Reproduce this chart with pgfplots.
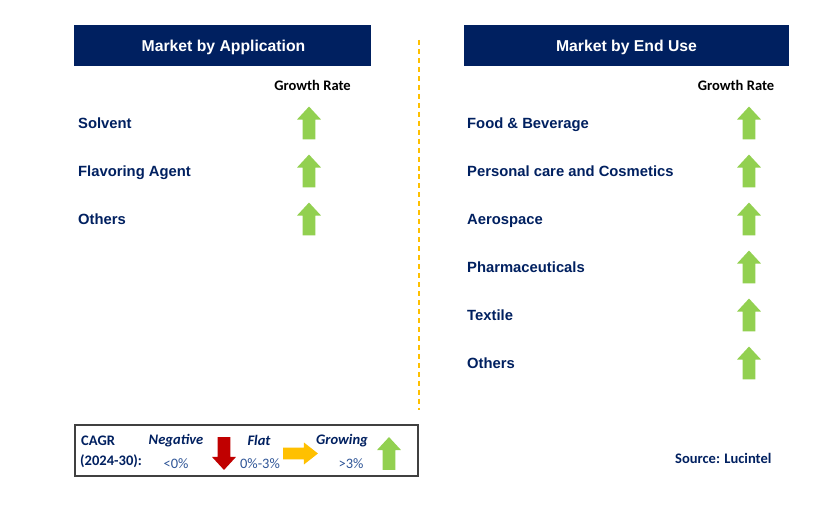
\documentclass[border=0pt]{standalone}
\usepackage{pgfplots}
\pgfplotsset{compat=1.18}
\usepackage{fontspec}
\setmainfont{Liberation Sans}
\newfontfamily\carlito{Carlito}
\definecolor{navy}{HTML}{002060}
\definecolor{lblue}{HTML}{2F5597}
\definecolor{grow}{HTML}{92D050}
\definecolor{neg}{HTML}{C00000}
\definecolor{flat}{HTML}{FFC000}
\pgfdeclareplotmark{uparrow}{%
  \pgfpathmoveto{\pgfpoint{-6.5pt}{-16.5pt}}%
  \pgfpathlineto{\pgfpoint{6.5pt}{-16.5pt}}%
  \pgfpathlineto{\pgfpoint{6.5pt}{3.5pt}}%
  \pgfpathlineto{\pgfpoint{12pt}{3.5pt}}%
  \pgfpathlineto{\pgfpoint{0pt}{16.5pt}}%
  \pgfpathlineto{\pgfpoint{-12pt}{3.5pt}}%
  \pgfpathlineto{\pgfpoint{-6.5pt}{3.5pt}}%
  \pgfpathclose\pgfusepathqfill}
\pgfdeclareplotmark{downarrow}{%
  \pgfpathmoveto{\pgfpoint{-6.5pt}{16.5pt}}%
  \pgfpathlineto{\pgfpoint{6.5pt}{16.5pt}}%
  \pgfpathlineto{\pgfpoint{6.5pt}{-3.5pt}}%
  \pgfpathlineto{\pgfpoint{12pt}{-3.5pt}}%
  \pgfpathlineto{\pgfpoint{0pt}{-16.5pt}}%
  \pgfpathlineto{\pgfpoint{-12pt}{-3.5pt}}%
  \pgfpathlineto{\pgfpoint{-6.5pt}{-3.5pt}}%
  \pgfpathclose\pgfusepathqfill}
\pgfdeclareplotmark{rightarrow}{%
  \pgfpathmoveto{\pgfpoint{-17.5pt}{-6pt}}%
  \pgfpathlineto{\pgfpoint{-17.5pt}{6pt}}%
  \pgfpathlineto{\pgfpoint{3.5pt}{6pt}}%
  \pgfpathlineto{\pgfpoint{3.5pt}{11pt}}%
  \pgfpathlineto{\pgfpoint{17.5pt}{0pt}}%
  \pgfpathlineto{\pgfpoint{3.5pt}{-11pt}}%
  \pgfpathlineto{\pgfpoint{3.5pt}{-6pt}}%
  \pgfpathclose\pgfusepathqfill}
\begin{document}
\begin{tikzpicture}
\begin{axis}[scale only axis, width=831bp, height=518bp,
  xmin=0, xmax=831, ymin=0, ymax=518, y dir=reverse,
  axis lines=none, ticks=none, clip=false]
\fill[white] (axis cs:0,0) rectangle (axis cs:831,518);
% header boxes
\fill[navy] (axis cs:74,25) rectangle (axis cs:371,66);
\fill[navy] (axis cs:464,25) rectangle (axis cs:789,66);
\node[text=white, font=\fontsize{15.8}{18}\selectfont\bfseries] at (axis cs:223.5,47) {Market by Application};
\node[text=white, font=\fontsize{15.8}{18}\selectfont\bfseries] at (axis cs:626.5,47) {Market by End Use};
\node[font=\carlito\fontsize{14.6}{17}\selectfont\bfseries] at (axis cs:312.5,85.5) {Growth Rate};
\node[font=\carlito\fontsize{14.6}{17}\selectfont\bfseries] at (axis cs:736,85.5) {Growth Rate};
% divider
\draw[flat, line width=1.5pt, dash pattern=on 5pt off 4pt] (axis cs:419,40) -- (axis cs:419,410);
% category labels
\addplot[draw=none, mark=none, point meta=explicit symbolic, nodes near coords,
  every node near coord/.append style={anchor=mid west, inner sep=0pt, text=navy,
    font=\fontsize{14.85}{17}\selectfont\bfseries}]
  coordinates {(78,126)[Solvent] (78,174)[Flavoring Agent] (78,222)[Others]};
\addplot[draw=none, mark=none, point meta=explicit symbolic, nodes near coords,
  every node near coord/.append style={anchor=mid west, inner sep=0pt, text=navy,
    font=\fontsize{14.85}{17}\selectfont\bfseries}]
  coordinates {(467,126)[Food \& Beverage] (467,174)[Personal care and Cosmetics]
    (467,222)[Aerospace] (467,270)[Pharmaceuticals] (467,318)[Textile] (467,366)[Others]};
% growth arrows
\addplot[only marks, mark=uparrow, mark options={fill=grow, draw=none}]
  coordinates {(309,123) (309,171) (309,219)};
\addplot[only marks, mark=uparrow, mark options={fill=grow, draw=none}]
  coordinates {(749,123) (749,171) (749,219) (749,267) (749,315) (749,363)};
% legend box
\draw[black!75, line width=1.2pt] (axis cs:75,425) rectangle (axis cs:418,476);
\node[anchor=west, text=navy, font=\carlito\fontsize{14.6}{17}\selectfont\bfseries, inner sep=0pt] at (axis cs:81,441) {CAGR};
\node[anchor=west, text=navy, font=\carlito\fontsize{14.6}{17}\selectfont\bfseries, inner sep=0pt] at (axis cs:80,461) {(2024-30):};
\node[text=navy, font=\carlito\fontsize{14.6}{17}\selectfont\bfseries\itshape] at (axis cs:176,440.5) {Negative};
\node[text=navy, font=\carlito\fontsize{14.6}{17}\selectfont\bfseries\itshape] at (axis cs:259,440.5) {Flat};
\node[text=navy, font=\carlito\fontsize{14.6}{17}\selectfont\bfseries\itshape] at (axis cs:342,440.5) {Growing};
\node[text=lblue, font=\carlito\fontsize{14.5}{17}\selectfont] at (axis cs:176,463.5) {<0\%};
\node[text=lblue, font=\carlito\fontsize{14.5}{17}\selectfont] at (axis cs:260,463.5) {0\%-3\%};
\node[text=lblue, font=\carlito\fontsize{14.5}{17}\selectfont] at (axis cs:351,463.5) {>3\%};
\addplot[only marks, mark=downarrow, mark options={fill=neg, draw=none}] coordinates {(224,453.5)};
\addplot[only marks, mark=rightarrow, mark options={fill=flat, draw=none}] coordinates {(300.5,453.5)};
\addplot[only marks, mark=uparrow, mark options={fill=grow, draw=none}] coordinates {(389,453.5)};
\node[anchor=east, text=navy, font=\carlito\fontsize{14.6}{17}\selectfont\bfseries] at (axis cs:775,458.5) {Source: Lucintel};
\end{axis}
\end{tikzpicture}
\end{document}
